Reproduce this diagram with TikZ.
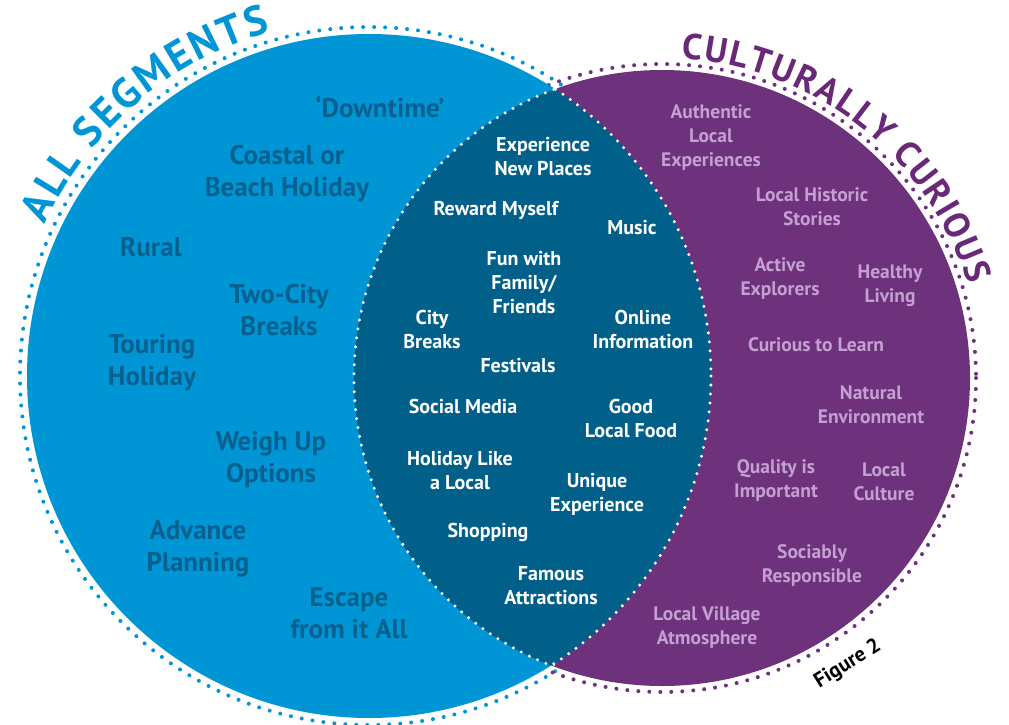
\documentclass[tikz,border=0pt]{standalone}
\usepackage{fontspec}
\setmainfont{PT Sans}
\usetikzlibrary{decorations.text}
\definecolor{cblue}{RGB}{0,150,214}
\definecolor{tblue}{RGB}{8,96,142}
\definecolor{clens}{RGB}{0,96,138}
\definecolor{cpur}{RGB}{110,50,125}
\definecolor{tpur}{RGB}{196,160,210}
\definecolor{ttitle}{RGB}{105,40,120}
\begin{document}
\begin{tikzpicture}[x=1pt,y=-1pt,
  bluetxt/.style={text=tblue, font=\bfseries\fontsize{27}{32}\selectfont, align=center, inner sep=0},
  lenstxt/.style={text=white, font=\bfseries\fontsize{20}{24}\selectfont, align=center, inner sep=0},
  purtxt/.style={text=tpur, font=\bfseries\fontsize{19.5}{24}\selectfont, align=center, inner sep=0},
  ring/.style={line width=4pt, line cap=round, dash pattern=on 0pt off 11pt},
  lensring/.style={white, line width=3.3pt, line cap=round, dash pattern=on 0pt off 9pt}
]
\useasboundingbox (0,0) rectangle (1009,725);
\coordinate (L) at (369,376);
\coordinate (R) at (662,378);
% outer dotted rings
\draw[ring, cblue] (L) circle[radius=349];
\draw[ring, cpur] (R) circle[radius=314];
% fills
\fill[cblue] (L) circle[radius=342];
\fill[cpur] (R) circle[radius=308];
\begin{scope}
  \clip (L) circle[radius=342];
  \fill[clens] (R) circle[radius=308];
\end{scope}
\begin{scope}
  \clip (R) circle[radius=310];
  \draw[lensring] (L) circle[radius=342];
\end{scope}
\begin{scope}
  \clip (L) circle[radius=344];
  \draw[lensring] (R) circle[radius=308];
\end{scope}
% curved titles
\path[decorate, decoration={text along path, text align=fit to path,
  text={|\bfseries\fontsize{42}{42}\selectfont\color{cblue}|ALL SEGMENTS}}]
  ([shift={(L)}]-155:358) arc[start angle=-155, end angle=-106, radius=358];
\path[decorate, decoration={text along path, text align=fit to path,
  text={|\bfseries\fontsize{36}{36}\selectfont\color{ttitle}|CULTURALLY CURIOUS}}]
  ([shift={(R)}]-86.5:320) arc[start angle=-86.5, end angle=-17, radius=320];
\node[rotate=32, font=\bfseries\fontsize{21}{21}\selectfont] (fig) at (848,664) {Figure 2};
% blue area
\node[bluetxt] (b1) at (380,107) {`Downtime'};
\node[bluetxt] (b2) at (287,174) {Coastal or\\Beach Holiday};
\node[bluetxt] (b3) at (151,247) {Rural};
\node[bluetxt] (b4) at (279,310) {Two-City\\Breaks};
\node[bluetxt] (b5) at (152,363) {Touring\\Holiday};
\node[bluetxt] (b6) at (271,460) {Weigh Up\\Options};
\node[bluetxt] (b7) at (198,549) {Advance\\Planning};
\node[bluetxt] (b8) at (349,613) {Escape\\from it All};
% lens
\node[lenstxt] (c1) at (543,157) {Experience\\New Places};
\node[lenstxt] (c2) at (496,210) {Reward Myself};
\node[lenstxt] (c3) at (632,228) {Music};
\node[lenstxt] (c4) at (524,283) {Fun with\\Family/\\Friends};
\node[lenstxt] (c5) at (432,329) {City\\Breaks};
\node[lenstxt] (c6) at (643,329) {Online\\Information};
\node[lenstxt] (c7) at (518,366) {Festivals};
\node[lenstxt] (c8) at (463,406) {Social Media};
\node[lenstxt] (c9) at (631,418) {Good\\Local Food};
\node[lenstxt] (c10) at (460,471) {Holiday Like\\a Local};
\node[lenstxt] (c11) at (597,494) {Unique\\Experience};
\node[lenstxt] (c12) at (488,532) {Shopping};
\node[lenstxt] (c13) at (551,586) {Famous\\Attractions};
% purple area
\node[purtxt] (p1) at (711,138) {Authentic\\Local\\Experiences};
\node[purtxt] (p2) at (812,207) {Local Historic\\Stories};
\node[purtxt] (p3) at (780,279) {Active\\Explorers};
\node[purtxt] (p4) at (890,286) {Healthy\\Living};
\node[purtxt] (p5) at (816,345) {Curious to Learn};
\node[purtxt] (p6) at (871,405) {Natural\\Environment};
\node[purtxt] (p7) at (776,480) {Quality is\\Important};
\node[purtxt] (p8) at (884,482) {Local\\Culture};
\node[purtxt] (p9) at (812,565) {Sociably\\Responsible};
\node[purtxt] (p10) at (707,628) {Local Village\\Atmosphere};
\end{tikzpicture}
\end{document}
